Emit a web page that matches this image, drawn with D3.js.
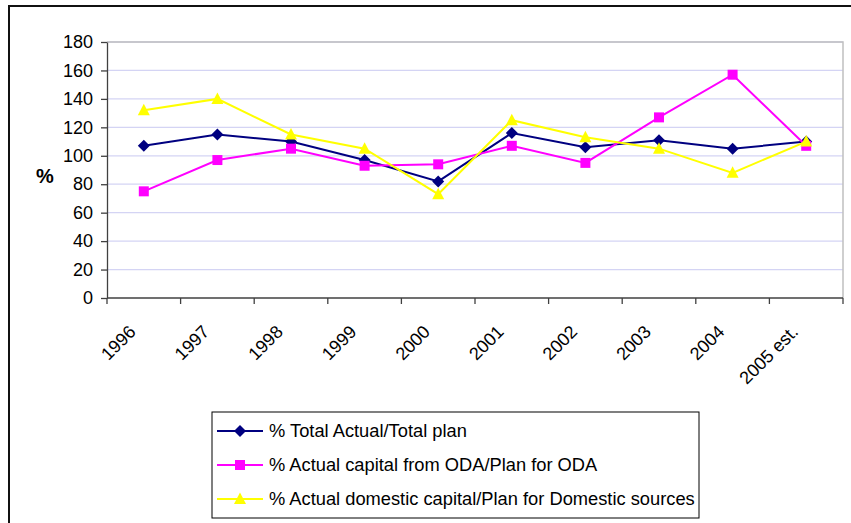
<!DOCTYPE html>
<html>
<head>
<meta charset="utf-8">
<script src="https://cdn.jsdelivr.net/npm/d3@7"></script>
<style>
  html, body { margin: 0; padding: 0; background: #fff; }
  svg { display: block; font-family: Arial, "Liberation Sans", sans-serif; }
</style>
</head>
<body>
<svg id="chart" width="851" height="523"></svg>
<script>
// Years on the category axis
const years = ["1996", "1997", "1998", "1999", "2000", "2001", "2002", "2003", "2004", "2005 est."];

// Series values (%)
const totalActual = [107, 115, 110, 97, 82, 116, 106, 111, 105, 110];
const odaActual = [75, 97, 105, 93, 94, 107, 95, 127, 157, 107];
const domesticActual = [132, 140, 115, 105, 73, 125, 113, 105, 88, 110];

const yTicks = [0, 20, 40, 60, 80, 100, 120, 140, 160, 180];

const seriesNames = [
  "% Total Actual/Total plan",
  "% Actual capital from ODA/Plan for ODA",
  "% Actual domestic capital/Plan for Domestic sources"
];

const series = [
  { name: seriesNames[0], values: totalActual, color: "#000080", marker: "diamond" },
  { name: seriesNames[1], values: odaActual, color: "#FF00FF", marker: "square" },
  { name: seriesNames[2], values: domesticActual, color: "#FFFF00", marker: "triangle" }
];

const FONT = "Arial, 'Liberation Sans', sans-serif";
const svg = d3.select("#chart");

// Outer chart frame
svg.append("rect")
  .attr("x", 9).attr("y", 6).attr("width", 850).attr("height", 530)
  .attr("fill", "#fff").attr("stroke", "#111").attr("stroke-width", 2);

const plot = { left: 107, right: 843, top: 42, bottom: 298 };

const x = d3.scaleBand().domain(years).range([plot.left, plot.right]).padding(0);
const y = d3.scaleLinear().domain([0, 180]).range([plot.bottom, plot.top]);

// Horizontal gridlines
svg.append("g")
  .selectAll("line")
  .data(yTicks.filter(t => t > 0))
  .join("line")
  .attr("x1", plot.left).attr("x2", plot.right)
  .attr("y1", d => y(d)).attr("y2", d => y(d))
  .attr("stroke", "#d4d4f4").attr("stroke-width", 1.3);

// Plot area border (top and right)
svg.append("path")
  .attr("d", `M${plot.left},${plot.top}H${plot.right}V${plot.bottom}`)
  .attr("fill", "none").attr("stroke", "#c0c0c0").attr("stroke-width", 1.5);

// Y axis
const yAxis = svg.append("g")
  .attr("transform", `translate(${plot.left},0)`)
  .call(d3.axisLeft(y).tickValues(yTicks).tickSize(6).tickPadding(8).tickSizeOuter(0));
yAxis.select(".domain").attr("stroke", "#404040").attr("stroke-width", 1.3);
yAxis.selectAll(".tick line").attr("stroke", "#404040").attr("stroke-width", 1.3);
yAxis.selectAll(".tick text").attr("font-size", 18).attr("fill", "#000")
  .attr("font-family", FONT);

// X axis: ticks at category boundaries
const xAxisG = svg.append("g").attr("transform", `translate(0,${plot.bottom})`);
xAxisG.append("line")
  .attr("x1", plot.left).attr("x2", plot.right)
  .attr("stroke", "#404040").attr("stroke-width", 1.3);
const boundaries = years.map(d => x(d)).concat([plot.right]);
xAxisG.selectAll("line.tk")
  .data(boundaries)
  .join("line").attr("class", "tk")
  .attr("x1", d => d).attr("x2", d => d)
  .attr("y1", 0).attr("y2", 6)
  .attr("stroke", "#404040").attr("stroke-width", 1.3);
xAxisG.selectAll("text")
  .data(years)
  .join("text")
  .attr("transform", d => `translate(${x(d) + x.bandwidth() / 2 - 7},${35}) rotate(-45)`)
  .attr("text-anchor", "end")
  .attr("font-size", 18)
  .attr("fill", "#000")
  .text(d => d);

// Y axis title
svg.append("text")
  .attr("x", 45).attr("y", 183)
  .attr("text-anchor", "middle")
  .attr("font-size", 20).attr("font-weight", "bold")
  .text("%");

const cx = d => x(d) + x.bandwidth() / 2;

function markerPath(type) {
  if (type === "diamond") return "M0,-6L6,0L0,6L-6,0Z";
  if (type === "square") return d3.symbol(d3.symbolSquare, 100)();
  return "M0,-6.5L6,5L-6,5Z";
}

const line = d3.line().x((d, i) => cx(years[i])).y(d => y(d));

series.forEach(s => {
  const g = svg.append("g");
  g.append("path")
    .datum(s.values)
    .attr("d", line)
    .attr("fill", "none")
    .attr("stroke", s.color)
    .attr("stroke-width", 2);
  g.selectAll("path.mk")
    .data(s.values)
    .join("path").attr("class", "mk")
    .attr("transform", (d, i) => `translate(${cx(years[i])},${y(d)})`)
    .attr("d", markerPath(s.marker))
    .attr("fill", s.color);
});

// Legend
const legend = { x: 212, y: 412, w: 487, h: 106 };
svg.append("rect")
  .attr("x", legend.x).attr("y", legend.y)
  .attr("width", legend.w).attr("height", legend.h)
  .attr("fill", "#fff").attr("stroke", "#000").attr("stroke-width", 1);

const rowY = [431, 465, 499];
series.forEach((s, i) => {
  const g = svg.append("g").attr("transform", `translate(0,${rowY[i]})`);
  g.append("line").attr("x1", 217).attr("x2", 263).attr("y1", 0).attr("y2", 0)
    .attr("stroke", s.color).attr("stroke-width", 2);
  g.append("path").attr("transform", "translate(240,0)")
    .attr("d", markerPath(s.marker)).attr("fill", s.color);
  g.append("text").attr("x", 269).attr("y", 6)
    .attr("font-size", 18.3).attr("fill", "#000")
    .text(s.name);
});
</script>
</body>
</html>
